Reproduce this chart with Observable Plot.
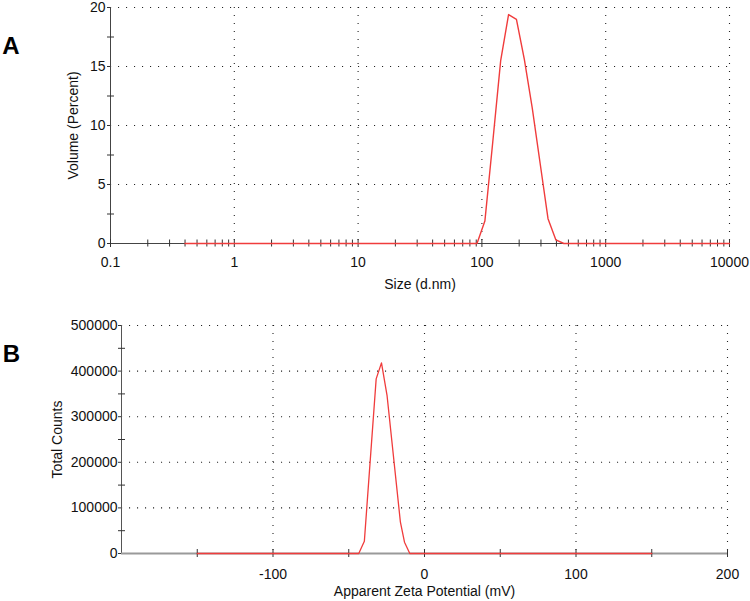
<!DOCTYPE html>
<html><head><meta charset="utf-8">
<script src="https://cdn.jsdelivr.net/npm/d3@7"></script>
<script src="https://cdn.jsdelivr.net/npm/@observablehq/plot@0.6"></script>
<style>
body{margin:0;background:#fff;font-family:"Liberation Sans",Arial,sans-serif;}
#wrap{position:relative;width:750px;height:601px;overflow:hidden;}
#wrap svg{position:absolute;left:0;}
</style></head><body><div id="wrap"></div>
<script>
// Panel A: size distribution by volume (size classes in d.nm)
const sizes = [0.4,0.4632,0.5365,0.6213,0.7195,0.8332,0.9649,1.117,1.294,1.499,1.736,2.01,2.328,2.696,3.122,3.615,4.187,4.849,5.615,6.503,7.531,8.721,10.1,11.7,13.54,15.69,18.17,21.04,24.36,28.21,32.67,37.84,43.82,50.75,58.77,68.06,78.82,91.28,105.7,122.4,141.8,164.2,190.1,220.2,255.0,295.3,342.0,396.1,458.7,531.2,615.1,712.4,825.0,955.4,1106,1281,1484,1718,1990,2305,2669,3091,3580,4145,4801,5560,6439,7456,8635,10000];
const volume = [0,0,0,0,0,0,0,0,0,0,0,0,0,0,0,0,0,0,0,0,0,0,0,0,0,0,0,0,0,0,0,0,0,0,0,0,0,0,1.9,8.6,15.5,19.4,19.0,15.6,11.5,6.8,2.1,0.3,0,0,0,0,0,0,0,0,0,0,0,0,0,0,0,0,0,0,0,0,0,0];
const sizeTicks = [0.1,1,10,100,1000,10000];
const sizeTickLabels = ["0.1","1","10","100","1000","10000"];
const volumeTicks = [0,5,10,15,20];
const volumeMinor = [2.5,7.5,12.5,17.5];

// Panel B: zeta potential distribution
const zetaMv = [-150,-43.4,-39.7,-31.9,-28.4,-24.7,-15.9,-13.2,-9.7,150];
const totalCounts = [0,0,27000,383000,418000,346000,68600,24800,0,0];
const zetaTicks = [-100,0,100,200];
const zetaMinor = [-150,-50,50,150];
const countTicks = [0,100000,200000,300000,400000,500000];
const countMinor = [50000,150000,250000,350000,450000];

const sizeMinor = [0.1,1,10,100,1000].flatMap(d => [2,3,4,5,6,7,8,9].map(m => +(d*m).toPrecision(3)));

const font = "Liberation Sans, Arial, sans-serif";
const gridStyle = {stroke:"#222", strokeOpacity:1, strokeWidth:1.1, strokeDasharray:"1.1 6.9"};
const red = "#f03c3c";

const sizeData = sizes.map((s,i) => ({size:s, volume:volume[i]}));
const zetaData = zetaMv.map((z,i) => ({zeta:z, counts:totalCounts[i]}));
const sizeLabel = d => sizeTickLabels[sizeTicks.indexOf(d)] ?? String(d);

const plotA = Plot.plot({
  width:750, height:300, marginLeft:110, marginRight:21, marginTop:7, marginBottom:57,
  style:{fontFamily:font, fontSize:"14px", color:"#333", background:"transparent", overflow:"visible"},
  x:{type:"log", domain:[0.1,10000]},
  y:{domain:[0,20]},
  marks:[
    Plot.gridY(volumeTicks.slice(1), gridStyle),
    Plot.gridX(sizeTicks.slice(1), gridStyle),
    Plot.ruleX([0.1], {stroke:"#444"}),
    Plot.ruleY([0], {stroke:"#444"}),
    Plot.axisY(volumeMinor, {tickSize:7, dx:4, tickFormat:() => "", label:null}),
    Plot.axisY(volumeTicks, {tickSize:3, tickPadding:2, fill:"#111", label:null}),
    Plot.axisX(sizeMinor, {tickSize:7, dy:-3.5, tickFormat:() => "", label:null}),
    Plot.axisX(sizeTicks, {tickSize:8, dy:-4, tickFormat:() => "", label:null}),
    Plot.axisX(sizeTicks, {tickSize:0, tickPadding:14, fill:"#111", tickFormat:sizeLabel, label:null}),
    Plot.line(sizeData, {x:"size", y:"volume", stroke:red, strokeWidth:1.4}),
    Plot.text(["Size (d.nm)"], {frameAnchor:"bottom", dy:41, textAnchor:"middle", lineAnchor:"middle", fontSize:14, fill:"#111"}),
    Plot.text(["Volume (Percent)"], {frameAnchor:"left", dx:-37, rotate:-90, textAnchor:"middle", lineAnchor:"middle", fontSize:14, fill:"#111"}),
    Plot.text(["A"], {frameAnchor:"top-left", dx:-99.5, dy:39, textAnchor:"middle", lineAnchor:"middle", fontSize:24, fontWeight:"bold", fill:"#000"})
  ]
});
plotA.style.top = "0px";

const plotB = Plot.plot({
  width:750, height:301, marginLeft:121, marginRight:23, marginTop:25, marginBottom:48,
  style:{fontFamily:font, fontSize:"14px", color:"#333", background:"transparent", overflow:"visible"},
  x:{domain:[-200,200]},
  y:{domain:[0,500000]},
  marks:[
    Plot.gridY(countTicks.slice(1), gridStyle),
    Plot.gridX(zetaTicks, gridStyle),
    Plot.ruleX([-200], {stroke:"#555"}),
    Plot.ruleY([0], {stroke:"#9a9a9a", strokeWidth:1.8}),
    Plot.axisY(countMinor, {tickSize:7, dx:4, tickFormat:() => "", label:null}),
    Plot.axisY(countTicks, {tickSize:3, tickPadding:1, fill:"#111", tickFormat:d => String(d), label:null}),
    Plot.axisX(zetaMinor.concat(zetaTicks), {tickSize:8, dy:-4, tickFormat:() => "", label:null}),
    Plot.axisX(zetaTicks, {tickSize:0, tickPadding:16, fill:"#111", tickFormat:d => String(d), label:null}),
    Plot.line(zetaData, {x:"zeta", y:"counts", stroke:red, strokeWidth:1.3}),
    Plot.text(["Apparent Zeta Potential (mV)"], {frameAnchor:"bottom", dy:38, textAnchor:"middle", lineAnchor:"middle", fontSize:14, fill:"#111"}),
    Plot.text(["Total Counts"], {frameAnchor:"left", dx:-64, rotate:-90, textAnchor:"middle", lineAnchor:"middle", fontSize:14, fill:"#111"}),
    Plot.text(["B"], {frameAnchor:"top-left", dx:-110, dy:29, textAnchor:"middle", lineAnchor:"middle", fontSize:24, fontWeight:"bold", fill:"#000"})
  ]
});
plotB.style.top = "300px";

const wrap = document.getElementById("wrap");
wrap.appendChild(plotA);
wrap.appendChild(plotB);
</script>
</body></html>
